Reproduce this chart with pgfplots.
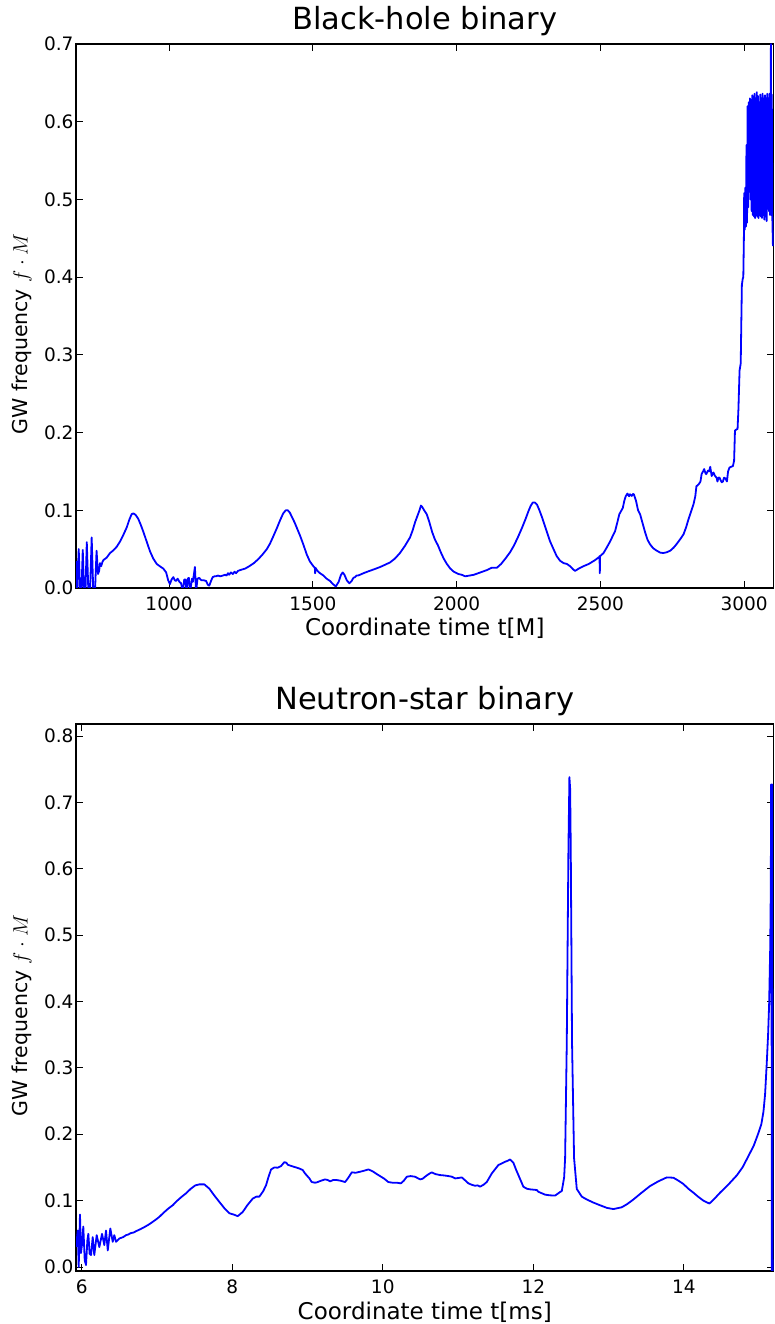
\documentclass[border=0pt]{standalone}
\usepackage{fontspec}
\setmainfont{DejaVu Sans}
\usepackage{pgfplots}
\pgfplotsset{compat=1.18}
\definecolor{mplblue}{RGB}{0,0,255}
\begin{document}
\begin{tikzpicture}[x=1pt,y=1pt]
\pgfplotsset{
  gwstyle/.style={
    scale only axis, width=697.5pt, anchor=south west,
    axis line style={line width=1.2pt, black},
    tick align=inside, major tick length=7pt,
    every tick/.style={black, line width=0.8pt},
    /pgf/number format/assume math mode=true,
    /pgf/number format/1000 sep={},
    tick label style={font=\fontsize{18.5}{21}\selectfont},
    xticklabel style={yshift=-5pt},
    yticklabel style={xshift=1pt},
    title style={font=\fontsize{30.5}{34}\selectfont, at={(axis description cs:0.5,1)}, anchor=base, yshift=8pt},
    xlabel style={font=\fontsize{23}{26}\selectfont, at={(axis description cs:0.5,0)}, anchor=base, yshift=-48pt},
    ylabel style={font=\fontsize{20.5}{24}\selectfont, at={(axis description cs:-0.0695,0.467)}, anchor=base},
    yticklabel style={/pgf/number format/fixed, /pgf/number format/fixed zerofill, /pgf/number format/precision=1},
    ylabel={GW frequency $f\cdot M$},
  }
}
% ---------------- top: black-hole binary ----------------
\begin{axis}[gwstyle, at={(76pt,736pt)}, height=544pt,
  title={Black-hole binary}, xlabel={Coordinate time t[M]},
  xmin=676.5, xmax=3102, ymin=0, ymax=0.7,
  xtick={1000,1500,2000,2500,3000},
  ytick={0,0.1,0.2,0.3,0.4,0.5,0.6,0.7}]
\addplot[mplblue, line width=1.8pt, line join=round] coordinates {
(677,0.035) (680,-0.01) (686,0.050) (691,-0.01) (695,-0.01) (700,0.049) (705,-0.01) (709,-0.01)
(714,0.059) (720,-0.01) (725,-0.01) (731,0.065) (737,-0.01) (742,-0.01) (748,0.048) (753,0.018)
(757,0.022) (760,0.032) (764,0.028) (768,0.033) (772,0.036) (783,0.039) (795,0.045) (805,0.048)
(818,0.053) (830,0.060) (842,0.069) (853,0.078) (862,0.088) (870,0.095) (876,0.096) (884,0.094)
(893,0.089) (902,0.081) (911,0.072) (922,0.060) (934,0.047) (945,0.038) (957,0.031) (968,0.028)
(980,0.025) (990,0.020) (997,0.010) (1003,0.005) (1009,0.011) (1015,0.014) (1020,0.010) (1024,0.009)
(1030,0.012) (1036,0.008) (1042,0.006) (1048,-0.005) (1053,0.011) (1057,0.011) (1061,-0.005) (1065,0.012)
(1069,0.013) (1073,-0.005) (1080,0.012) (1083,0.008) (1090,0.027) (1094,-0.005) (1099,0.012) (1105,0.013)
(1112,0.010) (1120,0.010) (1129,0.009) (1135,0.004) (1140,0.003) (1147,0.010) (1152,0.014) (1158,0.015)
(1163,0.015) (1170,0.016) (1178,0.015) (1187,0.016) (1195,0.017) (1200,0.016) (1205,0.019) (1209,0.017)
(1215,0.020) (1222,0.018) (1228,0.021) (1233,0.019) (1240,0.022) (1247,0.023) (1256,0.024) (1265,0.025)
(1279,0.028) (1295,0.032) (1310,0.037) (1325,0.043) (1340,0.050) (1351,0.057) (1362,0.066) (1375,0.077)
(1386,0.087) (1397,0.096) (1406,0.100) (1413,0.100) (1420,0.097) (1428,0.091) (1437,0.084) (1446,0.076)
(1456,0.067) (1467,0.056) (1479,0.043) (1490,0.034) (1502,0.028) (1507,0.026) (1508,0.019) (1509,0.026)
(1516,0.022) (1525,0.019) (1537,0.016) (1548,0.012) (1560,0.009) (1570,0.005) (1580,0.002) (1590,0.008)
(1598,0.017) (1604,0.020) (1610,0.017) (1618,0.010) (1627,0.006) (1635,0.009) (1641,0.013) (1647,0.014)
(1652,0.016) (1657,0.016) (1664,0.017) (1676,0.019) (1690,0.021) (1705,0.023) (1720,0.025) (1734,0.027)
(1752,0.030) (1769,0.033) (1786,0.038) (1803,0.045) (1820,0.054) (1838,0.065) (1847,0.074) (1856,0.085)
(1864,0.093) (1871,0.100) (1876,0.106) (1881,0.104) (1887,0.100) (1896,0.095) (1905,0.085) (1915,0.072)
(1925,0.062) (1935,0.055) (1945,0.046) (1955,0.038) (1966,0.031) (1978,0.025) (1990,0.021) (2006,0.018)
(2018,0.017) (2030,0.015) (2045,0.016) (2060,0.017) (2075,0.019) (2090,0.021) (2105,0.023) (2122,0.026)
(2140,0.026) (2155,0.031) (2170,0.038) (2186,0.046) (2200,0.055) (2214,0.066) (2227,0.077) (2240,0.089)
(2250,0.099) (2258,0.106) (2265,0.110) (2272,0.110) (2280,0.107) (2288,0.100) (2298,0.090) (2306,0.081)
(2314,0.072) (2325,0.060) (2337,0.050) (2348,0.041) (2360,0.035) (2372,0.032) (2383,0.031) (2395,0.028)
(2405,0.024) (2412,0.022) (2425,0.025) (2441,0.028) (2460,0.031) (2482,0.036) (2496,0.040) (2497,0.041)
(2498,0.019) (2499,0.041) (2511,0.045) (2522,0.052) (2534,0.060) (2543,0.067) (2551,0.073) (2558,0.083)
(2566,0.095) (2572,0.099) (2578,0.103) (2583,0.112) (2588,0.118) (2594,0.1215) (2600,0.118) (2603,0.1206)
(2609,0.1185) (2614,0.121) (2617,0.120) (2624,0.112) (2631,0.100) (2638,0.095) (2647,0.083) (2656,0.071)
(2664,0.062) (2673,0.056) (2684,0.051) (2696,0.048) (2708,0.0455) (2719,0.045) (2731,0.046) (2743,0.048)
(2755,0.052) (2766,0.057) (2778,0.063) (2789,0.069) (2798,0.078) (2806,0.088) (2815,0.098) (2824,0.108)
(2830,0.118) (2834,0.131) (2838,0.132) (2843,0.134) (2848,0.137) (2852,0.1465) (2857,0.150) (2861,0.153)
(2865,0.148) (2868,0.1465) (2874,0.151) (2878,0.150) (2882,0.156) (2887,0.144) (2893,0.1486) (2899,0.144)
(2904,0.142) (2907,0.137) (2911,0.142) (2914,0.142) (2918,0.139) (2922,0.136) (2926,0.137) (2930,0.142)
(2935,0.141) (2940,0.137) (2944,0.150) (2949,0.155) (2955,0.156) (2961,0.157) (2965,0.164) (2968,0.2025)
(2973,0.204) (2977,0.2046) (2980,0.23) (2984,0.280) (2988,0.289) (2990,0.34) (2992,0.39) (2995,0.398)
(2997,0.400) (2999,0.45) (3000,0.508) (3002,0.461) (3004,0.515) (3006,0.465) (3008,0.57) (3010,0.47)
(3012,0.62) (3014,0.49) (3016,0.625) (3018,0.51) (3020,0.63) (3022,0.50) (3024,0.628) (3026,0.485)
(3028,0.634) (3030,0.48) (3032,0.632) (3034,0.478) (3036,0.636) (3038,0.476) (3040,0.63) (3042,0.48)
(3044,0.638) (3046,0.478) (3048,0.633) (3050,0.476) (3052,0.625) (3054,0.48) (3056,0.635) (3058,0.478)
(3060,0.63) (3062,0.476) (3064,0.636) (3066,0.48) (3068,0.628) (3070,0.474) (3072,0.634) (3074,0.478)
(3076,0.63) (3078,0.472) (3080,0.636) (3082,0.49) (3084,0.63) (3086,0.485) (3088,0.636) (3090,0.48)
(3092,0.63) (3093,0.70) (3094,0.48) (3096,0.635) (3098,0.475) (3100,0.44)
};
\end{axis}
% ---------------- bottom: neutron-star binary ----------------
\begin{axis}[gwstyle, at={(76pt,53pt)}, height=547pt,
  title={Neutron-star binary}, xlabel={Coordinate time t[ms]},
  xmin=5.924, xmax=15.192, ymin=-0.006, ymax=0.818,
  xtick={6,8,10,12,14},
  ytick={0,0.1,0.2,0.3,0.4,0.5,0.6,0.7,0.8}]
\addplot[mplblue, line width=1.8pt, line join=round] coordinates {
(5.925,0.03) (5.947,0.055) (5.96,0.0) (5.977,0.079) (5.99,0.021) (6.005,0.035) (6.021,0.061) (6.04,0.01)
(6.057,0.003) (6.075,0.04) (6.088,0.050) (6.105,0.02) (6.124,0.018) (6.146,0.045) (6.167,0.018) (6.199,0.048)
(6.234,0.030) (6.270,0.050) (6.300,0.033) (6.323,0.055) (6.346,0.025) (6.380,0.058) (6.412,0.038) (6.433,0.048)
(6.456,0.038) (6.50,0.043) (6.55,0.045) (6.589,0.048) (6.62,0.049) (6.65,0.051) (6.69,0.052) (6.722,0.054)
(6.78,0.057) (6.83,0.060) (6.877,0.063) (6.93,0.067) (6.98,0.071) (7.031,0.0755) (7.09,0.082) (7.15,0.088)
(7.209,0.093) (7.27,0.100) (7.33,0.106) (7.386,0.111) (7.45,0.118) (7.51,0.123) (7.563,0.1245) (7.629,0.1245)
(7.696,0.118) (7.76,0.108) (7.829,0.098) (7.90,0.088) (7.961,0.081) (8.02,0.079) (8.073,0.0766) (8.14,0.083)
(8.20,0.093) (8.272,0.103) (8.32,0.106) (8.36,0.106) (8.41,0.114) (8.449,0.123) (8.48,0.135) (8.516,0.147)
(8.56,0.150) (8.605,0.1496) (8.648,0.152) (8.692,0.158) (8.72,0.157) (8.738,0.154) (8.79,0.152) (8.848,0.150)
(8.90,0.148) (8.937,0.146) (8.967,0.141) (9.025,0.1335) (9.056,0.128) (9.10,0.127) (9.123,0.1275) (9.18,0.130)
(9.233,0.132) (9.27,0.131) (9.30,0.129) (9.34,0.131) (9.389,0.131) (9.44,0.130) (9.499,0.128) (9.54,0.134)
(9.588,0.1426) (9.64,0.142) (9.698,0.1435) (9.75,0.145) (9.809,0.147) (9.85,0.145) (9.875,0.1435) (9.92,0.140)
(9.964,0.137) (10.02,0.133) (10.074,0.128) (10.13,0.127) (10.186,0.127) (10.24,0.126) (10.28,0.130) (10.319,0.136)
(10.37,0.137) (10.429,0.136) (10.496,0.132) (10.53,0.133) (10.562,0.136) (10.61,0.140) (10.651,0.1426) (10.70,0.140)
(10.761,0.1385) (10.81,0.138) (10.872,0.137) (10.92,0.136) (10.961,0.1335) (11.00,0.134) (11.050,0.135) (11.10,0.130)
(11.138,0.126) (11.18,0.124) (11.226,0.1224) (11.26,0.123) (11.293,0.121) (11.34,0.124) (11.382,0.128) (11.449,0.141)
(11.536,0.1536) (11.58,0.156) (11.625,0.1586) (11.66,0.160) (11.692,0.162) (11.736,0.157) (11.77,0.147) (11.802,0.1385)
(11.868,0.121) (11.913,0.118) (11.957,0.117) (12.047,0.116) (12.068,0.1133) (12.157,0.109) (12.22,0.108) (12.290,0.1076)
(12.356,0.113) (12.379,0.1145) (12.41,0.135) (12.423,0.164) (12.445,0.338) (12.467,0.629) (12.480,0.738) (12.490,0.72)
(12.498,0.629) (12.515,0.338) (12.542,0.164) (12.578,0.1175) (12.645,0.106) (12.711,0.1017) (12.80,0.097) (12.888,0.093)
(12.98,0.089) (13.065,0.0873) (13.176,0.090) (13.25,0.095) (13.330,0.1017) (13.44,0.112) (13.552,0.122) (13.66,0.129)
(13.774,0.135) (13.862,0.1345) (13.93,0.130) (13.995,0.125) (14.06,0.118) (14.127,0.112) (14.19,0.106) (14.260,0.100)
(14.340,0.0956) (14.40,0.102) (14.482,0.112) (14.59,0.124) (14.704,0.138) (14.78,0.150) (14.858,0.167) (14.93,0.183)
(14.991,0.2017) (15.03,0.215) (15.058,0.2337) (15.08,0.26) (15.103,0.309) (15.12,0.35) (15.134,0.3966) (15.148,0.48)
(15.156,0.571) (15.160,0.727) (15.164,0.727) (15.170,-0.01) (15.174,0.727) (15.180,-0.01)
};
\end{axis}
\pgfresetboundingbox
\path[use as bounding box] (0,0) rectangle (774,1324);
\end{tikzpicture}
\end{document}
